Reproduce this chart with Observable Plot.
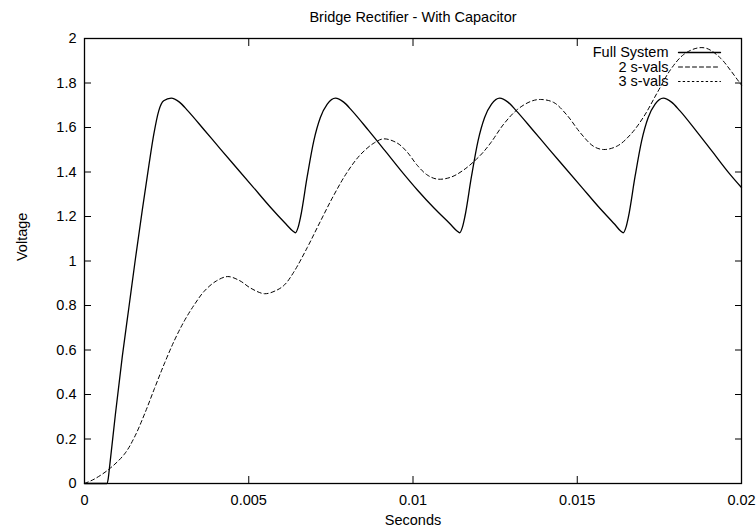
<!DOCTYPE html>
<html>
<head>
<meta charset="utf-8">
<script src="https://cdn.jsdelivr.net/npm/d3@7"></script>
<script src="https://cdn.jsdelivr.net/npm/@observablehq/plot@0.6"></script>
<style>
  body { margin: 0; background: #fff; }
  #chart svg { display: block; }
</style>
</head>
<body>
<div id="chart"></div>
<script>
// Full bridge rectifier simulation: output voltage (V) against time (s)
const fullTime = [
  0, 0.00068, 0.00072, 0.00076, 0.00094, 0.00115, 0.00135, 0.00155, 0.00176, 0.00196, 0.00211, 0.00226, 0.00241, 0.00264,
  0.00289, 0.00314, 0.00364, 0.00414, 0.00464, 0.00514, 0.00564, 0.00614, 0.00634, 0.00642,
  0.00650, 0.00658, 0.00678, 0.00698, 0.00718, 0.00739, 0.00764,
  0.00789, 0.00814, 0.00864, 0.00914, 0.00964, 0.01014, 0.01064, 0.01114, 0.01134, 0.01142,
  0.01150, 0.01158, 0.01178, 0.01198, 0.01218, 0.01239, 0.01264,
  0.01289, 0.01314, 0.01364, 0.01414, 0.01464, 0.01514, 0.01564, 0.01614, 0.01632, 0.01640,
  0.01648, 0.01656, 0.01676, 0.01696, 0.01716, 0.01737, 0.01762,
  0.01787, 0.01812, 0.01862, 0.01912, 0.01962, 0.02
];
const fullVolt = [
  0, 0, 0.02, 0.07, 0.31, 0.57, 0.79, 1.01, 1.23, 1.43, 1.57, 1.675, 1.72, 1.732,
  1.714, 1.676, 1.59, 1.503, 1.417, 1.331, 1.245, 1.165, 1.135, 1.127,
  1.15, 1.20, 1.38, 1.54, 1.645, 1.705, 1.732,
  1.714, 1.676, 1.588, 1.497, 1.405, 1.318, 1.238, 1.165, 1.135, 1.127,
  1.15, 1.20, 1.38, 1.54, 1.645, 1.705, 1.732,
  1.714, 1.676, 1.59, 1.503, 1.417, 1.331, 1.245, 1.165, 1.135, 1.127,
  1.15, 1.20, 1.38, 1.54, 1.645, 1.705, 1.732,
  1.714, 1.676, 1.585, 1.49, 1.395, 1.33
];

// Reduced model with two singular values
const twoTime = [
  0, 0.0003, 0.00076, 0.00122, 0.00152, 0.00183, 0.00213, 0.00244, 0.00274, 0.00304, 0.00335, 0.00365,
  0.00401, 0.00436, 0.00472, 0.00507, 0.00548, 0.00584, 0.00609, 0.00637, 0.00678, 0.00718, 0.00759,
  0.00800, 0.00840, 0.00881, 0.00911, 0.00952, 0.00982, 0.01013, 0.01043, 0.01074, 0.01114, 0.01155,
  0.01205, 0.01236, 0.01276, 0.01317, 0.01358, 0.01388, 0.01429, 0.01469, 0.01510, 0.01550, 0.01581,
  0.01622, 0.01662, 0.01703, 0.01743, 0.01784, 0.01824, 0.01865, 0.01895, 0.01936, 0.01966, 0.01992, 0.02
];
const twoVolt = [
  0, 0.02, 0.066, 0.133, 0.208, 0.313, 0.427, 0.542, 0.644, 0.731, 0.805, 0.865,
  0.910, 0.930, 0.912, 0.877, 0.853, 0.868, 0.893, 0.950, 1.060, 1.178, 1.296,
  1.400, 1.478, 1.530, 1.549, 1.530, 1.490, 1.430, 1.387, 1.368, 1.376, 1.410,
  1.475, 1.530, 1.615, 1.680, 1.717, 1.726, 1.712, 1.655, 1.575, 1.515, 1.501,
  1.517, 1.568, 1.650, 1.755, 1.860, 1.928, 1.957, 1.955, 1.912, 1.858, 1.806, 1.79
];

const xTicks = [0, 0.005, 0.01, 0.015, 0.02];
const xTickLabels = ["0", "0.005", "0.01", "0.015", "0.02"];
const yTicks = [0, 0.2, 0.4, 0.6, 0.8, 1, 1.2, 1.4, 1.6, 1.8, 2];
const yTickLabels = ["0", "0.2", "0.4", "0.6", "0.8", "1", "1.2", "1.4", "1.6", "1.8", "2"];
const legendLabels = ["Full System", "2 s-vals", "3 s-vals"];
const chartTitle = "Bridge Rectifier - With Capacitor";
const xLabel = "Seconds";
const yLabel = "Voltage";

const full = fullTime.map((t, i) => ({t, v: fullVolt[i]}));
const two = twoTime.map((t, i) => ({t, v: twoVolt[i]}));

// line styles per legend entry
const dashes = [null, "4,3", "1.6,3"];
const widths = [1.3, 1, 1];

// a plain horizontal stroke for the legend samples
const segment = {draw(context, l) { context.moveTo(0, 0); context.lineTo(0, -l); }};

const legendMarks = legendLabels.flatMap((label, i) => [
  Plot.text([label], {
    frameAnchor: "top-right", dx: -73, dy: 14 + i * 14.5,
    textAnchor: "end", lineAnchor: "middle", fill: "black"
  }),
  Plot.vector([label], {
    frameAnchor: "top-right", dx: -63, dy: 14 + i * 14.5,
    length: 42, rotate: 90, anchor: "start", shape: segment,
    stroke: "black", strokeWidth: widths[i], strokeDasharray: dashes[i]
  })
]);

const chart = Plot.plot({
  width: 756,
  height: 532,
  marginLeft: 84,
  marginRight: 15,
  marginTop: 38,
  marginBottom: 49,
  style: {
    fontFamily: "'Liberation Sans', Arial, sans-serif",
    fontSize: "14.5px",
    background: "white",
    color: "black"
  },
  x: {domain: [0, 0.02], label: null},
  y: {domain: [0, 2], label: null},
  marks: [
    // tick labels
    Plot.axisX(xTicks, {tickSize: 0, tickPadding: 11, tickFormat: (d, i) => xTickLabels[i], label: null}),
    Plot.axisY(yTicks, {tickSize: 0, tickPadding: 8, tickFormat: (d, i) => yTickLabels[i], label: null}),
    // inward ticks on all four sides
    Plot.axisX(xTicks, {anchor: "bottom", tickSize: -7, fill: "none", label: null}),
    Plot.axisX(xTicks, {anchor: "top", tickSize: -7, fill: "none", label: null}),
    Plot.axisY(yTicks, {anchor: "left", tickSize: -7, fill: "none", label: null}),
    Plot.axisY(yTicks, {anchor: "right", tickSize: -7, fill: "none", label: null}),
    Plot.line(two, {x: "t", y: "v", stroke: "black", strokeWidth: widths[1], strokeDasharray: dashes[1], curve: "catmull-rom"}),
    Plot.line(full, {x: "t", y: "v", stroke: "black", strokeWidth: widths[0], curve: "monotone-x"}),
    Plot.frame({stroke: "black", strokeWidth: 1.3}),
    ...legendMarks,
    Plot.text([chartTitle], {frameAnchor: "top", dy: -21, lineAnchor: "middle", fill: "black"}),
    Plot.text([xLabel], {frameAnchor: "bottom", dy: 37, lineAnchor: "middle", fill: "black"}),
    Plot.text([yLabel], {frameAnchor: "left", dx: -62, rotate: -90, lineAnchor: "middle", fill: "black"})
  ]
});

document.getElementById("chart").append(chart);
</script>
</body>
</html>
